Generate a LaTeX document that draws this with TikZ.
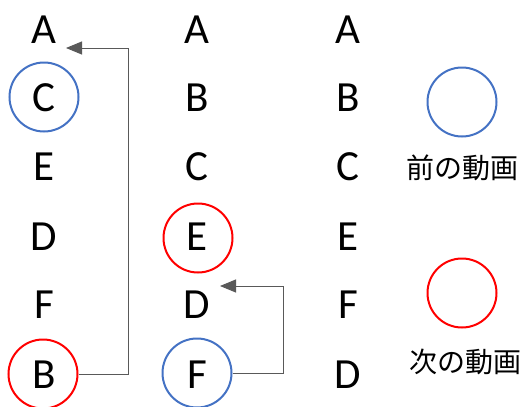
\documentclass[tikz,border=0pt]{standalone}
\usepackage{fontspec}
\setmainfont{Carlito}
\newfontfamily\jpfont{Noto Sans CJK JP}
\usetikzlibrary{arrows.meta}
\definecolor{cblue}{HTML}{4472C4}
\definecolor{cred}{HTML}{FF0000}
\definecolor{cgray}{HTML}{595959}
\begin{document}
\begin{tikzpicture}[x=1pt,y=-1pt,
  lett/.style={font=\fontsize{43}{43}\selectfont, inner sep=0pt, anchor=center},
  ring/.style={circle, draw, line width=2pt, minimum size=69pt, inner sep=0pt},
  link/.style={draw=cgray, line width=1pt, -{Triangle[length=16pt,width=13pt]}},
  jp/.style={font=\jpfont\fontsize{28}{28}\selectfont, inner sep=0pt}]
\useasboundingbox (0,0) rectangle (528,407);
% column 1
\node[lett] (a1) at (44,30) {A};
\node[lett] (c1) at (44,98) {C};
\node[lett] (e1) at (44,167) {E};
\node[lett] (d1) at (44,237) {D};
\node[lett] (f1) at (44,305) {F};
\node[lett] (b1) at (44,375) {B};
% column 2
\node[lett] (a2) at (197,30) {A};
\node[lett] (b2) at (197,98) {B};
\node[lett] (c2) at (197,167) {C};
\node[lett] (e2) at (197,237) {E};
\node[lett] (d2) at (197,305) {D};
\node[lett] (f2) at (197,375) {F};
% column 3
\node[lett] (a3) at (348,30) {A};
\node[lett] (b3) at (348,98) {B};
\node[lett] (c3) at (348,167) {C};
\node[lett] (e3) at (348,237) {E};
\node[lett] (f3) at (348,305) {F};
\node[lett] (d3) at (348,375) {D};
% rings
\node[ring, draw=cblue] (rc1) at (44,97) {};
\node[ring, draw=cred] (rb1) at (43,374) {};
\node[ring, draw=cred] (re2) at (198,238) {};
\node[ring, draw=cblue] (rf2) at (197,373) {};
% legend
\node[ring, draw=cblue] (lblue) at (462,102) {};
\node[jp] (tblue) at (462,168) {前の動画};
\node[ring, draw=cred] (lred) at (462,293) {};
\node[jp] (tred) at (465,362) {次の動画};
% arrows
\coordinate (t1) at (66,48);
\coordinate (t2) at (220,286);
\draw[link] (rb1.east) -| (128,48) -- (t1);
\draw[link] (rf2.east) -| (283,286) -- (t2);
\end{tikzpicture}
\end{document}
